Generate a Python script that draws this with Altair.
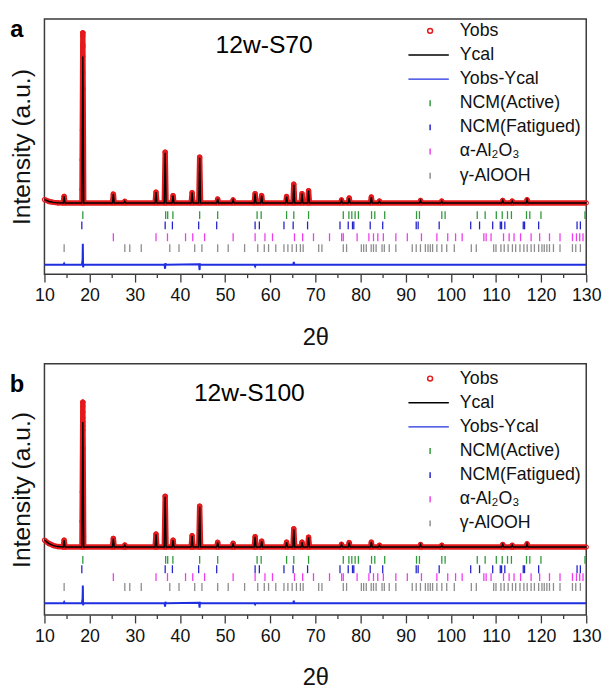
import altair as alt
import pandas as pd

FONT = "Liberation Sans"
RED = "#e41a1c"
BLACK = "#000000"
DIFF_BLUE = "#1f2fe0"
GREEN = "#2f9a3a"
TBLUE = "#2424cc"
MAGENTA = "#ee3cee"
GRAY = "#8c8c8c"
FRAME = "#3a3a3a"

# ---------------- data ----------------
x_min, x_max = 10, 130
major_ticks = list(range(10, 131, 10))
minor_ticks = list(range(15, 126, 10))

# peak positions (2theta) shared by both patterns
peak_pos = [14.36, 18.50, 25.26, 27.80, 34.71, 36.74, 38.49, 42.70, 44.38, 48.37, 51.79,
            56.66, 58.11, 63.63, 65.23, 67.05, 68.50, 75.8, 77.5, 82.4, 84.2, 93.3, 98.0,
            111.5, 113.6, 116.9]
peak_hw = 0.2

# panel a (12w-S70)
a_base = 723
a_bg_x = [10, 11, 12, 13]
a_bg_v = [757, 738, 729, 724]
a_cal_h = [67, 1487, 90, 17, 110, 510, 74, 105, 460, 40, 30, 95, 75, 65, 185, 95, 125,
           30, 50, 60, 18, 25, 18, 25, 18, 32]
a_obs_h = [67, 1727, 90, 17, 110, 515, 74, 105, 465, 40, 30, 95, 75, 65, 190, 95, 125,
           30, 50, 60, 18, 25, 18, 25, 18, 32]
a_col_x = [18.50, 18.50, 18.50, 18.50, 18.50, 18.48, 18.54, 18.44, 18.57, 18.40, 18.62,
           18.36, 18.65, 18.33]
a_col_v = [2450, 2420, 2330, 2310, 2210, 2050, 1880, 1740, 1610, 1460, 1310, 1160, 1010, 860]
a_diff_x = [10, 14.2, 14.36, 14.5, 18.3, 18.45, 18.5, 18.56, 18.7, 36.6, 36.72, 36.8, 36.9,
            44.25, 44.36, 44.44, 44.55, 56.5, 56.66, 56.8, 65.1, 65.23, 65.36, 130]
a_diff_v = [95, 95, 108, 95, 95, 150, 310, 70, 95, 95, 55, 112, 95, 100, 42, 108, 95, 95,
            80, 95, 95, 125, 95, 95]
a_rows = [600, 495, 375, 265]

# panel b (12w-S100)
b_base = 690
b_bg_x = [10, 11, 12, 13]
b_bg_v = [760, 725, 705, 695]
b_cal_h = [70, 1270, 87, 20, 130, 510, 70, 115, 410, 48, 38, 105, 60, 50, 180, 50, 98,
           28, 45, 50, 18, 25, 18, 25, 18, 32]
b_obs_h = [70, 1470, 87, 20, 132, 515, 70, 115, 415, 48, 38, 105, 60, 50, 185, 50, 100,
           28, 45, 50, 18, 25, 18, 25, 18, 32]
b_col_x = [18.50, 18.50, 18.50, 18.50, 18.50, 18.49, 18.52, 18.47, 18.55, 18.43, 18.59,
           18.38, 18.63, 18.34, 18.67]
b_col_v = [2160, 2120, 2060, 2000, 1960, 1920, 1880, 1790, 1690, 1550, 1400, 1250, 1100, 950, 800]
b_diff_x = a_diff_x
b_diff_v = [120, 120, 132, 120, 120, 170, 300, 100, 120, 120, 85, 135, 120, 125, 75, 132,
            120, 120, 108, 120, 120, 145, 120, 120]
b_rows = [560, 465, 385, 285]

# reflection positions of the four phases
active_pos = [18.50, 36.85, 37.30, 38.45, 44.38, 48.37, 57.10, 58.00, 63.63, 65.23, 68.50,
              76.19, 77.43, 78.08, 78.81, 79.54, 82.45, 83.17, 85.36, 92.41, 93.06, 98.01,
              98.74, 105.86, 107.61, 110.08, 111.39, 112.56, 113.43, 116.77, 117.50, 119.97,
              129.72]
fatigued_pos = [18.28, 36.74, 38.34, 44.16, 48.15, 56.66, 57.60, 63.05, 65.09, 68.28, 75.46,
                77.28, 78.23, 78.52, 82.15, 84.92, 92.34, 92.77, 97.43, 104.41, 106.37,
                109.28, 110.96, 111.25, 111.97, 116.05, 116.34, 119.46, 127.97, 128.70]
alumina_pos = [25.26, 34.71, 37.25, 41.25, 42.85, 45.47, 51.79, 56.66, 58.84, 60.51, 65.38,
               67.19, 69.59, 73.14, 75.83, 76.19, 79.25, 81.86, 82.88, 83.83, 85.06, 87.83,
               90.37, 93.50, 96.92, 99.32, 101.06, 102.52, 107.32, 107.83, 108.92, 111.68,
               112.92, 114.01, 115.46, 117.79, 119.68, 121.86, 124.19, 126.95, 127.83,
               128.56, 129.28]
boehmite_pos = [14.36, 27.80, 28.90, 31.44, 37.76, 39.80, 43.28, 44.88, 48.37, 50.70, 54.33,
                57.24, 58.69, 59.64, 61.24, 63.05, 63.92, 64.86, 65.81, 66.69, 67.30, 70.74,
                71.46, 76.19, 76.92, 80.19, 80.70, 81.28, 82.37, 82.88, 83.46, 84.77, 85.28,
                86.37, 87.83, 91.46, 92.34, 93.28, 94.37, 94.95, 95.46, 95.97, 96.92, 98.01,
                99.10, 100.77, 104.55, 105.65, 109.50, 110.01, 111.10, 111.83, 112.70,
                113.65, 114.37, 115.32, 116.19, 116.92, 117.79, 118.52, 119.46, 120.19,
                120.70, 121.28, 121.86, 122.74, 124.19, 126.95, 127.68, 128.70]
phase_pos = [active_pos, fatigued_pos, alumina_pos, boehmite_pos]
phase_colors = [GREEN, TBLUE, MAGENTA, GRAY]

legend_names = ["Yobs", "Ycal", "Yobs-Ycal", "NCM(Active)", "NCM(Fatigued)",
                "α-Al₂O₃", "γ-AlOOH"]
legend_colors = [RED, BLACK, DIFF_BLUE, GREEN, TBLUE, MAGENTA, GRAY]
LINE_PATH = "M-8.8,0L7.6,0"
TICK_PATH = "M0,-1.2L0,1.2"
legend_shapes = ["circle", LINE_PATH, LINE_PATH, TICK_PATH, TICK_PATH, TICK_PATH, TICK_PATH]

W = 550
A_H = 259
B_H = 255


def X():
    return alt.X("x:Q",
                 scale=alt.Scale(domain=[x_min, x_max], nice=False, zero=False),
                 axis=alt.Axis(values=major_ticks, tickSize=8, tickWidth=1.3, tickColor=FRAME,
                               domain=False, grid=False, labelFontSize=18, labelPadding=5,
                               labelFlush=False, labelColor="#111111", title="2θ",
                               titleFontSize=24, titlePadding=21, titleFontWeight="normal",
                               titleColor="#111111"))


def Y(h):
    return alt.Y("v:Q",
                 scale=alt.Scale(domain=[0, h * 10], nice=False, zero=False),
                 axis=alt.Axis(title="Intensity (a.u.)", labels=False, ticks=False,
                               domain=False, grid=False, titleFontSize=25, titlePadding=10,
                               titleFontWeight="normal", titleColor="#111111"))


def profile(bg_x, bg_v, base, heights):
    xs = list(bg_x)
    vs = list(bg_v)
    for p, hgt in zip(peak_pos, heights):
        xs += [p - peak_hw, p, p + peak_hw]
        vs += [base, base + hgt, base]
    xs.append(x_max)
    vs.append(base)
    return pd.DataFrame({"x": xs, "v": vs})


def panel(h, base, bg_x, bg_v, cal_h, obs_h, col_x, col_v, diff_x, diff_v, rows,
          tag, tag_y, name, name_x, name_y, leg_y):
    cal = profile(bg_x, bg_v, base, cal_h)
    obs = profile(bg_x, bg_v, base, obs_h)
    col = pd.DataFrame({"x": col_x, "v": col_v})
    pts = pd.concat([obs, col], ignore_index=True)
    diff = pd.DataFrame({"x": diff_x, "v": diff_v})

    band = alt.Chart(obs).mark_line(color=RED, strokeWidth=5.5, strokeJoin="round").encode(
        x=X(), y=Y(h))
    circles = alt.Chart(pts).mark_point(shape="circle", filled=False, color=RED, size=18,
                                        strokeWidth=1.1, opacity=1).encode(x=X(), y=Y(h))
    calc = alt.Chart(cal).mark_line(color=BLACK, strokeWidth=1.4).encode(x=X(), y=Y(h))
    dif = alt.Chart(diff).mark_line(color=DIFF_BLUE, strokeWidth=2).encode(x=X(), y=Y(h))
    ticks = []
    for pos, row, colr in zip(phase_pos, rows, phase_colors):
        df = pd.DataFrame({"x": pos, "v": [row] * len(pos)})
        ticks.append(alt.Chart(df).mark_tick(orient="vertical", size=8, thickness=1.3,
                                             color=colr, opacity=1).encode(x=X(), y=Y(h)))
    minor = alt.Chart(pd.DataFrame({"x": minor_ticks})).mark_rule(
        color=FRAME, strokeWidth=1.3).encode(x=X(), y=alt.value(h), y2=alt.value(h + 4))

    leg = alt.Legend(title=None, orient="none", legendX=382.5, legendY=leg_y, padding=0,
                     symbolSize=25, symbolStrokeWidth=1.5, labelFontSize=18,
                     labelOffset=21, rowPadding=6.5, labelLimit=300, labelColor="#111111",
                     labelFont=FONT)
    leg_df = pd.DataFrame({"x": [-50] * len(legend_names), "v": [0] * len(legend_names),
                           "series": legend_names})
    legend = alt.Chart(leg_df).mark_point(filled=False, opacity=1, clip=True, size=25).encode(
        x=X(), y=Y(h),
        color=alt.Color("series:N", scale=alt.Scale(domain=legend_names, range=legend_colors),
                        legend=leg),
        shape=alt.Shape("series:N", scale=alt.Scale(domain=legend_names, range=legend_shapes),
                        legend=leg),
    )
    tag_t = alt.Chart(pd.DataFrame({"t": [tag]})).mark_text(
        font=FONT, fontSize=24, fontWeight="bold", color=BLACK).encode(
        text="t:N", x=alt.value(-28), y=alt.value(tag_y))
    name_t = alt.Chart(pd.DataFrame({"t": [name]})).mark_text(
        font=FONT, fontSize=25, color=BLACK).encode(
        text="t:N", x=alt.value(name_x), y=alt.value(name_y))

    return alt.layer(band, circles, calc, dif, *ticks, minor, legend, tag_t, name_t).properties(
        width=W, height=h)


pa = panel(A_H, a_base, a_bg_x, a_bg_v, a_cal_h, a_obs_h, a_col_x, a_col_v, a_diff_x,
           a_diff_v, a_rows, "a", 11, "12w-S70", 223, 26, 3)
pb = panel(B_H, b_base, b_bg_x, b_bg_v, b_cal_h, b_obs_h, b_col_x, b_col_v, b_diff_x,
           b_diff_v, b_rows, "b", 22, "12w-S100", 208, 30, 6)

chart = alt.vconcat(pa, pb, spacing=13).resolve_scale(
    color="independent", shape="independent"
).properties(
    padding={"left": 0, "top": 4, "right": 0, "bottom": 0}
).configure_view(
    stroke=FRAME, strokeWidth=1.5
).configure_axis(
    labelFont=FONT, titleFont=FONT
).configure_legend(
    labelFont=FONT
)

chart.save("out.html", embed_options={"renderer": "svg", "actions": False})
